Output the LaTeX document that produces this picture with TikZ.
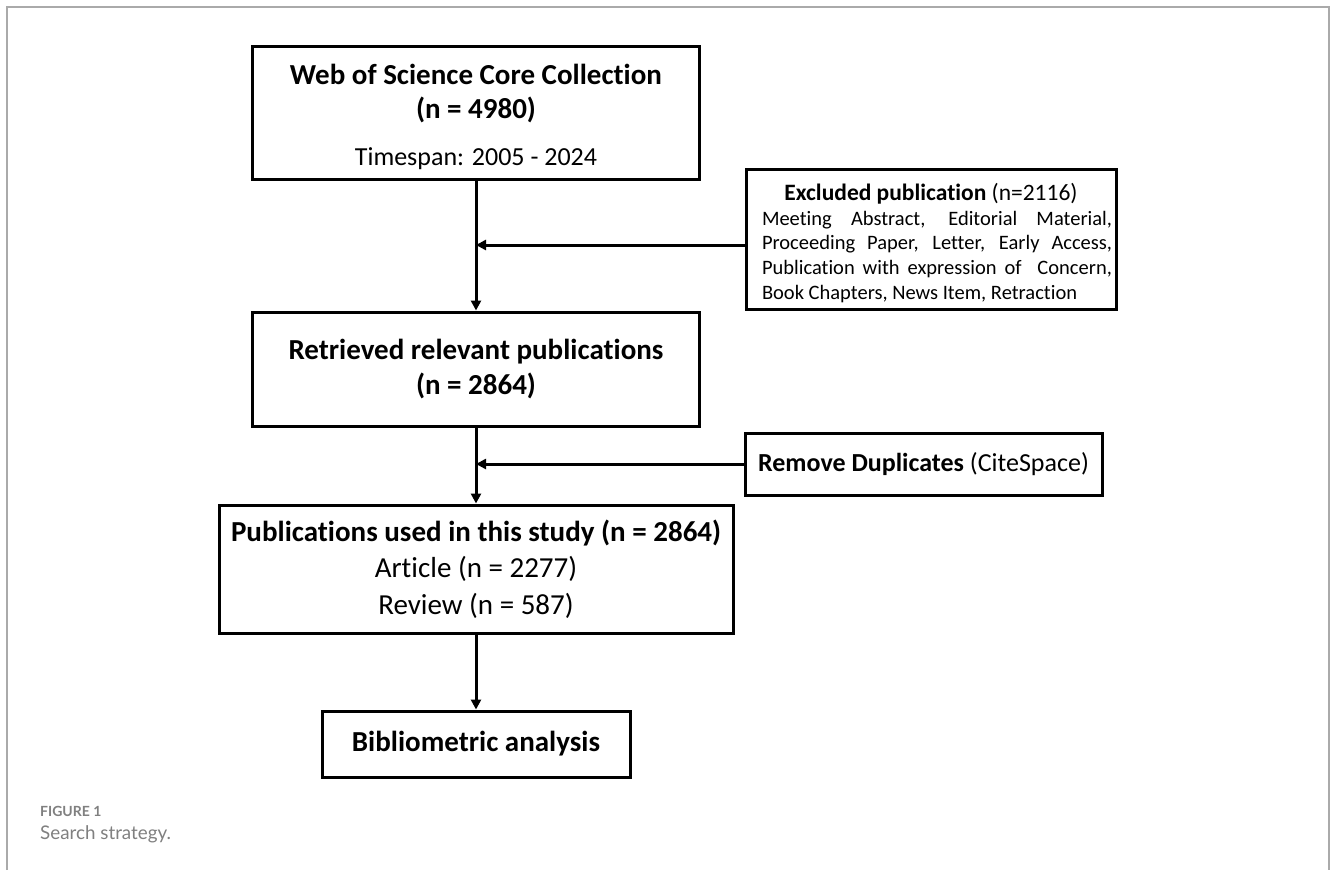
\documentclass[tikz,border=0pt]{standalone}
\usepackage{fontspec}
\setmainfont{Carlito}[RawFeature=-liga]
\newfontfamily\capfont{Lato}
\usetikzlibrary{arrows.meta}
\definecolor{framegray}{HTML}{AAAAAA}
\definecolor{capgray}{HTML}{808080}
\tikzset{
  flowbox/.style={draw=black, line width=3pt, inner sep=0pt, align=center, fill=white},
  arr/.style={line width=3pt, -{Triangle[length=10pt,width=10pt]}},
}
\begin{document}
\begin{tikzpicture}[x=1pt,y=-1pt]
\useasboundingbox (0,0) rectangle (1330,870);
\fill[white] (0,0) rectangle (1330,870);
\draw[framegray, line width=2pt] (6.5,870) -- (6.5,6.5) -- (1329,6.5) -- (1329,870);

\node[flowbox, minimum width=447pt, minimum height=133pt, font=\fontsize{29}{34}\selectfont] (b1) at (476,112.5)
  {\rule{0pt}{30pt}\textbf{Web of Science Core Collection}\\
   \textbf{(n = 4980)}\\[13pt]
   \fontsize{26}{34}\selectfont Timespan: 2005 - 2024};

\node[flowbox, minimum width=370pt, minimum height=140pt] (ex) at (931,239)
  {\hspace*{12pt}\begin{minipage}{350pt}\vspace*{8pt}\fontsize{20.5}{24.8}\selectfont\parindent=0pt
   {\centering\fontsize{23.5}{25}\selectfont\textbf{Excluded publication} (n=2116)\hspace*{12pt}\par}
   Meeting Abstract, Editorial Material,\linebreak
   Proceeding Paper, Letter, Early Access,\linebreak
   Publication with expression of \ Concern,\linebreak
   Book Chapters, News Item, Retraction\par
   \end{minipage}};

\node[flowbox, minimum width=447pt, minimum height=114pt, font=\fontsize{29}{35}\selectfont\bfseries] (b2) at (476,369)
  {Retrieved relevant publications\\
   (n = 2864)};

\node[flowbox, minimum width=357pt, minimum height=62pt, font=\fontsize{26}{30}\selectfont] (rd) at (923.5,464)
  {\textbf{Remove Duplicates} (CiteSpace)};

\node[flowbox, minimum width=514pt, minimum height=128pt, font=\fontsize{29}{36.5}\selectfont] (b3) at (476,569)
  {\textbf{Publications used in this study (n = 2864)}\\
   Article (n = 2277)\\
   Review (n = 587)};

\node[flowbox, minimum width=308pt, minimum height=66pt, font=\fontsize{29}{34}\selectfont\bfseries] (b4) at (476,744)
  {Bibliometric analysis};

\draw[arr] (b1.south) -- (b2.north);
\draw[arr] ([yshift=-6pt]ex.west) -- ([yshift=-6pt]ex.west -| b1.south);
\draw[arr] (b2.south) -- (b3.north);
\draw[arr] (rd.west) -- (rd.west -| b2.south);
\draw[arr] (b3.south) -- (b4.north);

\node[anchor=base west, inner sep=0pt, text=capgray, font=\capfont\bfseries\fontsize{14}{16}\selectfont] (cap1) at (40,816) {FIGURE 1};
\node[anchor=base west, inner sep=0pt, text=capgray, font=\capfont\fontsize{18.8}{21}\selectfont] (cap2) at (40,839) {Search strategy.};
\end{tikzpicture}
\end{document}
